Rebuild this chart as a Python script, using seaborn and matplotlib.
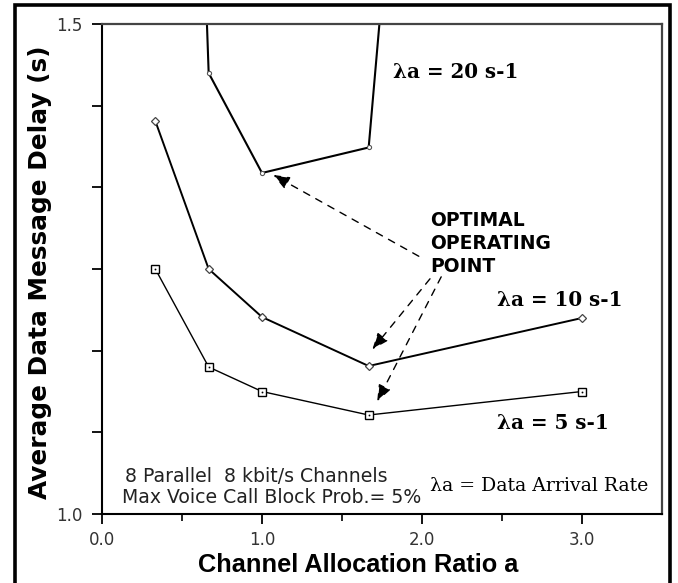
import seaborn as sns
import matplotlib.pyplot as plt
import matplotlib.patches as mpatches

# channel allocation ratio a
ratio = [1/3, 2/3, 1.0, 5/3, 3.0]
delay_5 = [1.25, 1.15, 1.125, 1.101, 1.125]
delay_10 = [1.401, 1.25, 1.201, 1.151, 1.20]
# lambda = 20 blows up at both ends (off the top of the chart)
ratio_20 = [1/3, 2/3, 1.0, 5/3, 2.0]
delay_20 = [3.0, 1.45, 1.348, 1.374, 2.0]

x_ticks = [0, 1, 2, 3]
x_ticklabels = ["0.0", "1.0", "2.0", "3.0"]
y_ticks = [1.0 + i / 12 for i in range(7)]
y_ticklabels = ["1.0", "", "", "", "", "", "1.5"]

sns.set_style("white")
plt.rcParams['font.family'] = ['DejaVu Sans']
plt.rcParams['text.color'] = 'black'

fig = plt.figure(figsize=(6.78, 5.83), dpi=100)
ax = fig.add_axes([102/678, 1 - 514/583, (662 - 102)/678, (514 - 24)/583])

# lambda = 5 : hollow squares with a dot inside
sns.lineplot(x=ratio, y=delay_5, ax=ax, color="black", lw=1.0,
             marker="s", markersize=6, markerfacecolor="white",
             markeredgecolor="black", markeredgewidth=1.0)
sns.scatterplot(x=ratio, y=delay_5, ax=ax, color="black", s=2, zorder=5)

# lambda = 10 : small diamonds
sns.lineplot(x=ratio, y=delay_10, ax=ax, color="black", lw=1.4,
             marker="D", markersize=4, markerfacecolor="white",
             markeredgecolor="#444444", markeredgewidth=0.9)

# lambda = 20 : tiny dotted markers
sns.lineplot(x=ratio_20, y=delay_20, ax=ax, color="black", lw=1.5,
             marker="o", markersize=3, markerfacecolor="white",
             markeredgecolor="#555555", markeredgewidth=0.8)

ax.set_xlim(0, 3.5)
ax.set_ylim(1.0, 1.5)
ax.set_xticks(x_ticks)
ax.set_xticklabels(x_ticklabels)
ax.set_xticks([0.5, 1.5, 2.5], minor=True)
ax.set_yticks(y_ticks)
ax.set_yticklabels(y_ticklabels)
ax.tick_params(axis="both", which="both", direction="out", color="black",
               labelsize=12, labelcolor="#333333")
ax.tick_params(axis="x", which="major", length=7, width=1.3, pad=5, bottom=True)
ax.tick_params(axis="x", which="minor", length=5, width=1.2, bottom=True)
ax.tick_params(axis="y", which="major", length=7, width=1.3, pad=7, left=True)
ax.set_xlabel("")
ax.set_ylabel("")

for side in ["left", "bottom"]:
    ax.spines[side].set_color("black")
    ax.spines[side].set_linewidth(1.5)
for side in ["top", "right"]:
    ax.spines[side].set_color("#444444")
    ax.spines[side].set_linewidth(1.6)

# series labels
lab = dict(family="DejaVu Serif", fontweight="bold", fontsize=14.3,
           va="center", ha="left")
ax.text(1.82, 1.451, "λa = 20 s-1", **lab)
ax.text(2.47, 1.218, "λa = 10 s-1", **lab)
ax.text(2.47, 1.093, "λa = 5 s-1", **lab)

ax.text(2.05, 1.309, "OPTIMAL\nOPERATING\nPOINT", fontweight="bold",
        fontsize=13.5, va="top", ha="left", linespacing=1.25)

arrow = dict(arrowstyle="-|>,head_length=1.0,head_width=0.4",
             linestyle=(0, (5, 5)), color="black", lw=1.0,
             shrinkA=0, shrinkB=0)
ax.annotate("", xy=(1.07, 1.346), xytext=(1.98, 1.263), arrowprops=arrow)
ax.annotate("", xy=(1.69, 1.168), xytext=(2.05, 1.24), arrowprops=arrow)
ax.annotate("", xy=(1.72, 1.115), xytext=(2.12, 1.242), arrowprops=arrow)

ax.text(0.144, 1.0378, "8 Parallel  8 kbit/s Channels", fontsize=13.6,
        color="#222222", va="center", ha="left")
ax.text(0.128, 1.0165, "Max Voice Call Block Prob.= 5%", fontsize=13.6,
        color="#222222", va="center", ha="left")
ax.text(2.05, 1.0286, "λa = Data Arrival Rate", family="DejaVu Serif",
        fontsize=13.6, va="center", ha="left")

fig.text(40/678, 1 - 272/583, "Average Data Message Delay (s)", rotation=90,
         fontweight="bold", fontsize=17.8, ha="center", va="center")
fig.text(358/678, 1 - 565/583, "Channel Allocation Ratio a",
         family="Liberation Sans", fontweight="bold", fontsize=18.3,
         ha="center", va="center")

# thick outer frame
fig.patches.append(mpatches.Rectangle((14.5/678, -0.05), (670 - 14.5)/678,
                                      1.05 - 5/583, transform=fig.transFigure,
                                      fill=False, lw=2.6, ec="black"))

fig.savefig("out.png", dpi=100)
